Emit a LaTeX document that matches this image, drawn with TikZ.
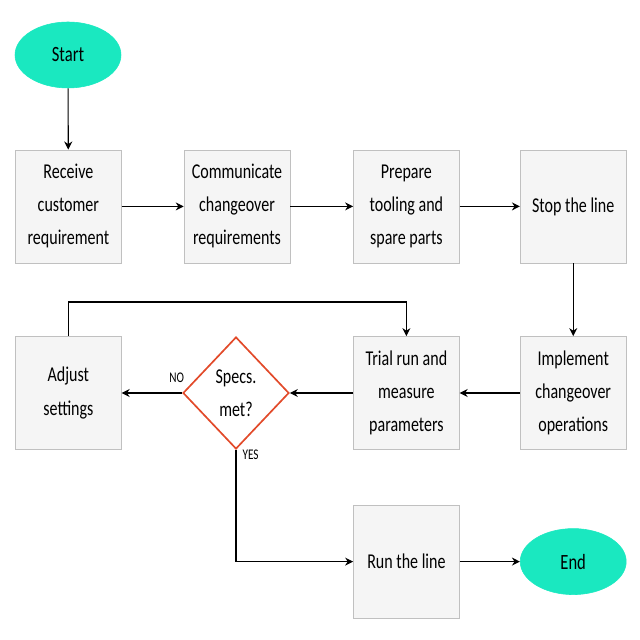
\documentclass[tikz,border=0pt]{standalone}
\usepackage{fontspec}
\setmainfont[FakeStretch=0.76]{Carlito}
\definecolor{termcyan}{RGB}{26,232,192}
\definecolor{boxgray}{RGB}{245,245,245}
\definecolor{edgegray}{RGB}{192,192,192}
\definecolor{decred}{RGB}{226,74,42}
\usetikzlibrary{positioning, arrows.meta, shapes.geometric}

\begin{document}
\begin{tikzpicture}[
  terminal/.style={ellipse, fill=termcyan, draw=termcyan, minimum width=2.65cm, minimum height=1.65cm, font=\fontsize{15.5}{20}\selectfont},
  process/.style={draw=edgegray, fill=boxgray, minimum width=2.65cm, minimum height=2.83cm, align=center, font=\fontsize{15}{23.5}\selectfont},
  decision/.style={diamond, draw=decred, line width=1.2pt, fill=white, minimum width=2.65cm, minimum height=2.8cm, inner sep=0pt, aspect=0.95, align=center, font=\fontsize{15}{23.5}\selectfont},
  arrow/.style={-{Stealth[length=2mm, width=2mm]}, thick},
  tag/.style={font=\fontsize{10.5}{11}\selectfont}
]
  \useasboundingbox (0,0) rectangle (16,16);

  % Start
  \node[terminal] (start) at (1.7, 14.625) {Start};

  % First row
  \node[process] (receive) at (1.71, 10.84) {Receive\\customer\\requirement};
  \node[process] (communicate) at (5.925, 10.84) {Communicate\\changeover\\requirements};
  \node[process] (prepare) at (10.16, 10.84) {Prepare\\tooling and\\spare parts};
  \node[process] (stop) at (14.33, 10.84) {Stop the line};

  % Second row
  \node[process] (adjust) at (1.71, 6.175) {Adjust\\settings};
  \node[decision] (specs) at (5.9, 6.175) {Specs.\\met?};
  \node[process] (trial) at (10.16, 6.175) {Trial run and\\measure\\parameters};
  \node[process] (implement) at (14.33, 6.175) {Implement\\changeover\\operations};

  % Last row
  \node[process] (run) at (10.16, 1.96) {Run the line};
  \node[terminal] (finish) at (14.33, 1.96) {End};

  % Connectors
  \draw[arrow] (start) -- (receive);
  \draw[arrow] (receive) -- (communicate);
  \draw[arrow] (communicate) -- (prepare);
  \draw[arrow] (prepare) -- (stop);
  \draw[arrow] (stop) -- (implement);
  \draw[arrow] (implement) -- (trial);
  \draw[arrow] (trial) -- (specs);
  \draw[arrow] (specs) -- (adjust)
    node[pos=0.0, above left=4pt and -5pt, tag] {NO};
  \draw[arrow] (adjust.north) |- (1.71, 8.45) -| (trial.north);
  \draw[arrow] (specs.south) |- (run.west)
    node[pos=0.02, right=1pt, tag] {YES};
  \draw[arrow] (run) -- (finish);
\end{tikzpicture}
\end{document}
